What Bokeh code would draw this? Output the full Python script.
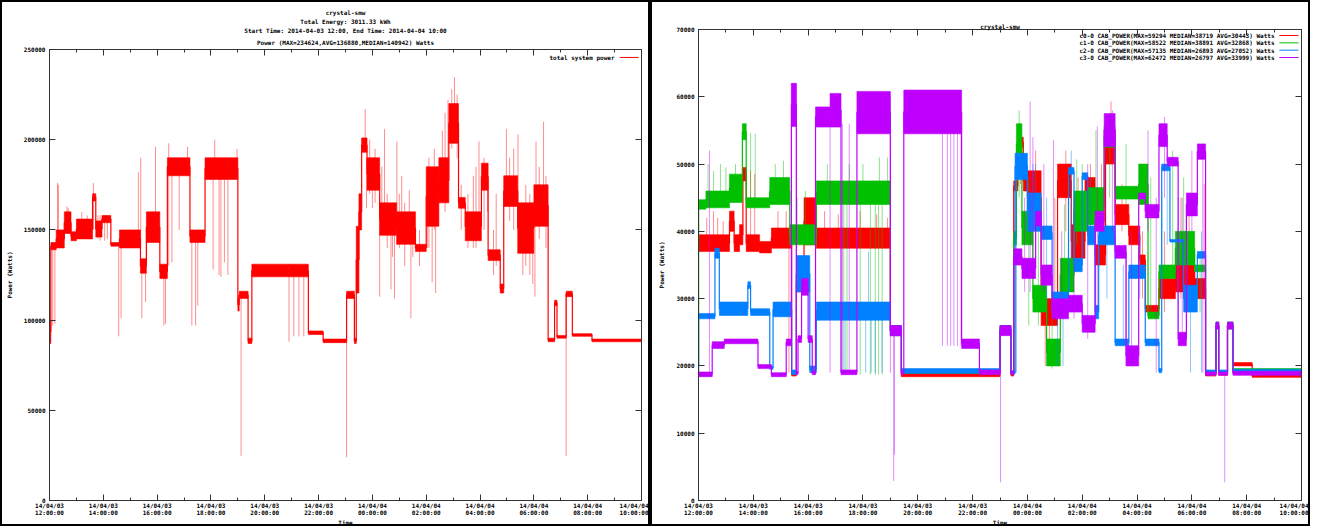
from bokeh.plotting import figure
from bokeh.layouts import row
from bokeh.models import (FixedTicker, NumeralTickFormatter, LinearAxis, Range1d,
                          Title, Label, Arrow)
from bokeh.embed import file_html
from bokeh.resources import INLINE

# ---------------- data (time in hours after 2014-04-03 12:00, power in kW) -------------
x_ticks = [0, 2, 4, 6, 8, 10, 12, 14, 16, 18, 20, 22]
x_minor = [1, 3, 5, 7, 9, 11, 13, 15, 17, 19, 21]
x_tick_labels = ["14/04/03\n12:00:00", "14/04/03\n14:00:00", "14/04/03\n16:00:00",
                 "14/04/03\n18:00:00", "14/04/03\n20:00:00", "14/04/03\n22:00:00",
                 "14/04/04\n00:00:00", "14/04/04\n02:00:00", "14/04/04\n04:00:00",
                 "14/04/04\n06:00:00", "14/04/04\n08:00:00", "14/04/04\n10:00:00"]
left_y_ticks = [0, 50000, 100000, 150000, 200000, 250000]
right_y_ticks = [0, 10000, 20000, 30000, 40000, 50000, 60000, 70000]

left_titles = ["crystal-smw", "Total Energy: 3011.33 kWh",
               "Start Time: 2014-04-03 12:00, End Time: 2014-04-04 10:00",
               "Power (MAX=234624,AVG=136880,MEDIAN=140942) Watts"]
right_titles = ["crystal-smw"]
total_label = "total system power"

# total system power: dense band per segment (start time, low, high)
tot_t = [0.00, 0.05, 0.25, 0.55, 0.80, 1.00, 1.60, 1.72, 1.95, 2.28, 2.60, 3.38, 3.60, 4.10, 4.38,
         5.22, 5.78, 7.00, 7.05, 7.38, 7.52, 8.88, 9.62, 10.17, 11.04, 11.33, 11.40, 11.50, 11.60,
         11.80, 12.27, 12.90, 13.60, 14.00, 14.47, 14.84, 15.20, 15.45, 16.05, 16.30, 16.75, 16.88,
         17.40, 18.00, 18.53, 18.77, 18.86, 19.20, 19.43, 20.16]
tot_lo = [87, 139, 140, 148, 144, 145, 166, 146, 154, 141, 140, 126, 143, 123, 180, 143, 178, 105,
          112, 87, 124, 124, 92, 87.5, 112, 87, 115, 150, 193, 172, 147, 142, 138, 152, 165, 198,
          162, 144, 172, 133, 115, 163, 137, 152, 88, 108, 90, 113, 91, 88]
tot_hi = [100, 143, 150, 160, 149, 156, 170, 155, 158, 143, 150, 134, 160, 131, 190, 150, 190, 112,
          116, 90, 131, 131, 94, 89.5, 116, 90, 152, 170, 201, 190, 165, 160, 142, 185, 190, 220,
          168, 160, 187, 139, 120, 180, 165, 175, 90, 111, 91.5, 116, 92.5, 89.5]
# isolated excursions (time, low, high)
tot_sp_t = [0.02, 0.12, 0.20, 0.30, 0.33, 0.65, 0.70, 1.20, 1.40, 1.63, 1.80, 1.88, 2.05, 2.15,
            2.57, 2.66, 3.30, 3.39, 3.43, 3.57, 3.94, 4.25, 4.31, 4.43, 4.55, 4.82, 5.13, 5.29,
            5.43, 5.51, 6.08, 6.14, 6.30, 6.37, 6.50, 6.63, 6.97, 7.12, 8.90, 9.08, 9.27, 9.45,
            11.04, 11.73, 11.78, 12.00, 12.27, 12.45, 12.69, 12.82, 12.91, 13.09, 13.37, 13.43,
            14.04, 14.22, 14.35, 14.81, 14.95, 15.05, 15.15, 15.96, 16.28, 16.98, 17.41, 17.59,
            17.96, 18.04, 18.08, 18.36, 19.20,
            11.90, 12.10, 12.35, 12.55, 12.75, 13.00, 13.20, 13.50, 13.75, 14.10, 14.30, 14.60,
            14.70, 15.30, 15.55, 15.75, 15.85, 16.15, 16.50, 16.60, 17.10, 17.25, 17.70, 17.85,
            18.20, 18.45]
tot_sp_lo = [88, 97, 98, 140, 145, 150, 148, 147, 146, 150, 145, 144, 144, 145, 91, 101, 145, 140,
             101, 110, 150, 97, 98, 130, 132, 150, 180, 97, 97, 108, 128, 185, 125, 124, 132, 125,
             185, 24.8, 88, 91, 91, 91, 24, 195, 162, 162, 113, 160, 117, 112, 150, 150, 150, 101,
             140, 121, 115, 180, 195, 200, 190, 150, 160, 170, 165, 125, 120, 113, 160, 165, 24.8,
             170, 165, 150, 140, 135, 140, 130, 135, 130, 140, 150, 165, 160, 150, 140, 140, 140,
             150, 125, 130, 155, 150, 130, 125, 145, 140]
tot_sp_hi = [140, 141, 142, 176, 175, 163, 162, 160, 158, 176, 158, 158, 158, 158, 142, 142, 182,
             190, 130, 130, 196, 128, 128, 198, 185, 185, 196, 145, 145, 145, 185, 200, 183, 183,
             183, 183, 195, 112, 125, 125, 125, 125, 112, 217, 190, 185, 170, 206, 150, 150, 199,
             180, 172, 145, 178, 160, 160, 222, 228, 234.6, 225, 199, 187, 206, 203, 160, 160, 160,
             199, 210, 115,
             200, 195, 185, 170, 165, 170, 165, 160, 150, 190, 195, 205, 215, 175, 170, 180, 185,
             190, 150, 170, 190, 195, 175, 170, 185, 180]

# cabinets (kW)
c0_t = [0.00, 1.13, 1.30, 1.50, 1.62, 1.74, 2.23, 2.66, 3.40, 3.57, 3.85, 4.30, 7.00, 7.40, 11.00,
        11.40, 11.50, 11.65, 11.85, 12.00, 12.50, 13.10, 13.60, 14.10, 14.47, 14.85, 15.20, 15.70,
        16.10, 16.30, 16.80, 17.40, 18.10, 18.50, 18.88, 18.98, 19.30, 19.50, 20.20]
c0_lo = [37, 40, 37, 38, 47.5, 37, 36.8, 37.5, 18.5, 31, 38, 37.5, 24.5, 18.4, 24.8, 18.5, 46, 52.5,
         46, 41, 26, 45, 36, 44, 35, 50, 41, 38, 35, 28, 30, 31, 30, 18.5, 25.5, 18.6, 25.5, 20, 18.3]
c0_hi = [39.5, 43, 39.5, 41, 49.5, 39.5, 38.5, 40.5, 19, 33.5, 45, 40.5, 26, 18.9, 26, 19, 47.5, 54,
         49, 49, 30, 50, 41, 48, 38, 55, 44, 40.8, 36.5, 29, 33, 37, 33, 19, 26.5, 19, 26.5, 20.5, 18.8]
c0_sp_t = [0.30, 0.55, 0.70, 0.90, 1.90, 2.05, 2.90, 3.20, 3.30, 4.60, 5.10, 5.90, 6.50, 6.90,
           11.75, 12.65, 15.05, 18.45, 11.55, 12.30, 12.80, 13.00, 13.40, 13.85, 14.30, 14.70,
           15.45, 16.20, 17.00, 17.60, 17.90]
c0_sp_lo = [38, 38, 38, 38, 38, 38, 39, 39, 19, 39, 39, 39, 39, 39, 47, 20, 50, 32, 19, 41, 22, 26,
            40, 36, 40, 35, 40, 30, 28, 30, 28]
c0_sp_hi = [42, 43, 42, 41.5, 49, 48.5, 43, 43, 40, 43, 42.5, 43, 42.5, 42, 53, 26, 59.3, 47, 47,
            52, 30, 45, 52, 48, 50, 50, 47, 40, 40, 45, 44]

c1_t = [0.00, 0.27, 1.13, 1.60, 1.74, 2.60, 3.33, 4.30, 7.00, 7.40, 11.00, 11.40, 11.50, 11.60,
        11.80, 12.20, 12.70, 13.20, 13.70, 14.20, 14.80, 15.20, 16.06, 16.40, 16.80, 17.40, 18.10,
        18.50, 18.88, 18.98, 19.30, 19.50]
c1_lo = [43.3, 43.5, 44.3, 53.6, 43.5, 44, 38, 44, 24.5, 18.9, 25, 18.7, 38, 50, 38, 28, 20, 31, 40,
         41, 52.5, 44.8, 44, 27, 33, 35, 34, 18.8, 25.5, 18.8, 25.5, 19]
c1_hi = [44.7, 46, 48.5, 56, 45, 48, 41, 47.5, 26, 19.4, 26, 19.2, 40, 56, 43, 32, 24, 36, 46, 46.5,
         55.6, 46.7, 50, 28, 35, 40, 35, 19.3, 26.5, 19.3, 26.5, 19.6]
c1_sp_t = [0.02, 0.35, 0.55, 0.80, 1.00, 1.35, 1.90, 2.07, 2.80, 3.10, 3.60, 3.90, 4.70, 5.30,
           5.42, 5.50, 5.90, 6.00, 6.27, 6.45, 6.57, 6.60, 6.70, 6.90, 12.05, 13.80, 14.00, 16.50,
           17.70, 11.70, 12.40, 12.90, 13.35, 14.50, 15.00, 15.60, 16.90, 17.30, 18.30]
c1_sp_lo = [20, 44, 44, 44, 44, 45, 44, 44, 45, 45, 38, 38, 45, 18.7, 18.7, 45, 18.7, 45, 18.7,
            18.7, 18.7, 45, 18.7, 45, 26, 38, 38, 28, 30, 45, 26, 19.6, 30, 41, 45, 44, 30, 33, 28]
c1_sp_hi = [44, 50, 49, 50, 49.5, 50, 54.6, 54.5, 50, 50.5, 45, 46, 50, 44, 44, 50, 44, 50, 44, 44,
            44, 51, 44, 51, 48, 50.7, 50, 48, 48, 58, 44, 33, 44, 55, 57, 53, 46, 52, 36]

c2_t = [0.00, 0.60, 0.76, 1.80, 1.90, 2.60, 2.72, 3.40, 3.57, 4.06, 4.30, 7.00, 7.40, 11.00, 11.40,
        11.55, 12.00, 12.50, 12.90, 13.50, 13.70, 14.00, 14.20, 14.47, 14.60, 15.20, 15.70, 16.30,
        16.80, 16.90, 17.20, 17.70, 18.20, 18.50, 18.88, 18.98, 19.30, 19.50]
c2_lo = [27, 36, 27.5, 31.5, 27.5, 19.5, 27.3, 18.7, 31, 19, 26.8, 24.5, 18.9, 25, 18.8, 47.7, 40,
         38.8, 28, 48.5, 34, 47.7, 38, 27, 38, 23, 33, 23, 19, 49, 38.4, 28, 36, 18.9, 25.5, 18.9,
         25.5, 18.9]
c2_hi = [27.8, 37.5, 29.5, 32.5, 28.5, 20, 29.5, 19.4, 36.4, 20, 29.5, 26, 19.6, 26, 19.3, 51.6,
         45.7, 40.8, 31, 49.5, 36, 48.7, 40.8, 29, 40.8, 24, 35, 24, 19.6, 50, 38.8, 32, 37, 19.4,
         26.5, 19.4, 26.5, 19.5]
c2_sp_t = [0.02, 5.20, 5.35, 6.10, 6.20, 6.30, 6.45, 6.70, 12.30, 13.10, 13.30, 14.30, 17.95,
           11.60, 12.20, 12.70, 13.60, 14.90, 15.50, 16.10, 17.10, 17.50, 18.35]
c2_sp_lo = [19, 19, 19, 19, 28, 19, 19, 19, 40, 20, 20, 38, 19, 19, 40, 30, 36, 30, 23, 30, 38, 25,
            19]
c2_sp_hi = [27.5, 28, 28, 28, 37, 28, 28, 28, 50, 31, 31, 48, 32, 52, 50, 45, 52, 41, 35, 40, 50,
            45, 40]

c3_t = [0.00, 0.50, 0.94, 2.17, 2.66, 3.20, 3.39, 3.57, 3.63, 3.76, 4.00, 4.15, 4.27, 4.80, 5.20,
        5.78, 7.00, 7.40, 7.49, 9.60, 10.25, 11.00, 11.40, 11.50, 11.80, 12.30, 12.50, 12.90,
        13.50, 14.00, 14.47, 14.80, 15.20, 15.60, 16.06, 16.30, 16.80, 17.10, 17.50, 17.80, 18.20,
        18.50, 18.88, 18.98, 19.30, 19.50]
c3_lo = [18.4, 22.6, 23.3, 19.6, 18.4, 23, 55.6, 18.7, 23.5, 30.5, 23.5, 18.7, 55.5, 55.5, 18.7,
         54.5, 24.5, 18.7, 54.5, 22.6, 18.7, 24.5, 18.7, 35, 33, 40.8, 32, 27, 28, 25, 40, 52.6, 36,
         20, 44.8, 42, 52.6, 49.7, 23, 42.3, 50.7, 18.6, 25.5, 18.6, 25.5, 18.6]
c3_hi = [19.1, 23.6, 24, 20.2, 19, 24, 62, 19.2, 24.5, 33, 24.5, 19.2, 58.5, 60.5, 19.4, 60.8, 26,
         19.2, 61, 24, 19.4, 26, 19.2, 37.4, 36, 43, 35, 30, 30.5, 27.5, 43, 57.5, 37.9, 23, 45.7,
         44, 56, 51, 25, 45.7, 53, 19.1, 26.5, 19.1, 26.5, 19.2]
c3_sp_t = [0.40, 3.39, 3.57, 4.80, 5.25, 5.50, 7.00, 7.12, 7.15, 8.90, 9.08, 9.20, 9.32, 9.45,
           9.58, 11.02, 12.10, 12.20, 12.95, 14.55, 15.60, 16.70, 19.20, 11.90, 12.60, 13.25,
           13.70, 14.20, 15.10, 15.80, 16.40, 17.00, 17.65, 18.00, 18.40]
c3_sp_lo = [19, 19, 19, 19, 19, 19, 19, 2.9, 6.8, 23, 23, 23, 23, 23, 23, 2.7, 31, 36, 31, 28, 20,
            19, 2.7, 31, 31, 27, 27, 24, 40, 20, 40, 45, 23, 40, 19]
c3_sp_hi = [52, 62, 62, 56, 56, 56, 60, 26, 25, 55, 55, 55, 55, 55, 55, 25, 59.3, 54, 53.6, 55.6,
            38, 45, 19, 45, 50, 40, 45, 50, 58, 40, 55, 57, 45, 52, 53]

cab_labels = ["c0-0 CAB_POWER(MAX=59294 MEDIAN=38719 AVG=30443) Watts",
              "c1-0 CAB_POWER(MAX=58522 MEDIAN=38891 AVG=32868) Watts",
              "c2-0 CAB_POWER(MAX=57135 MEDIAN=26893 AVG=27052) Watts",
              "c3-0 CAB_POWER(MAX=62472 MEDIAN=26797 AVG=33999) Watts"]
cab_colors = ["#ff0000", "#00c000", "#0080ff", "#c000ff"]

T_END = 22.0
FONT = "DejaVu Sans Mono"
FS = "6px"
AX = "#333333"
FIG_H = 526
CSS_BORDER = 2


def watts(vals):
    return [v * 1000 for v in vals]


def draw_series(p, t, lo, hi, st, slo, shi, color):
    right = t[1:] + [T_END]
    lo_w, hi_w = watts(lo), watts(hi)
    p.segment(x0=st, x1=st, y0=watts(slo), y1=watts(shi), line_color=color,
              line_alpha=0.45, line_width=1)
    mid = [(a + b) / 2 for a, b in zip(lo_w, hi_w)]
    p.step(x=t + [T_END], y=mid + [mid[-1]], mode="after", line_color=color, line_width=1.2)
    p.quad(left=t, right=right, bottom=lo_w, top=hi_w, fill_color=color,
           line_color=color, line_width=0.6)


def style_axes(p, y_ticks, top_gap):
    p.xaxis.ticker = FixedTicker(ticks=x_ticks, minor_ticks=x_minor)
    p.xaxis.major_label_overrides = {t: lab for t, lab in zip(x_ticks, x_tick_labels)}
    p.yaxis.ticker = FixedTicker(ticks=y_ticks)
    p.yaxis.formatter = NumeralTickFormatter(format="0")
    for ax in p.xaxis + p.yaxis:
        ax.major_tick_in = 6
        ax.major_tick_out = 0
        ax.minor_tick_in = 3
        ax.minor_tick_out = 0
        ax.axis_line_color = AX
        ax.major_tick_line_color = AX
        ax.minor_tick_line_color = AX
        ax.major_label_text_font = FONT
        ax.major_label_text_font_size = FS
        ax.major_label_text_font_style = "bold"
        ax.major_label_text_color = "black"
        ax.major_label_text_line_height = 1.0
        ax.axis_label_text_font = FONT
        ax.axis_label_text_font_size = FS
        ax.axis_label_text_font_style = "bold"
        ax.axis_label_text_color = "black"
        ax.major_label_standoff = 1
        ax.axis_label_standoff = 0
    p.yaxis.major_label_standoff = 4
    p.yaxis.axis_label_standoff = 8
    p.yaxis.minor_tick_line_color = None
    p.xaxis.axis_label = "Time"
    p.yaxis.axis_label = "Power (Watts)"
    # mirrored ticks on top / right (no labels)
    top = LinearAxis(ticker=FixedTicker(ticks=x_ticks, minor_ticks=x_minor),
                     major_label_overrides={t: "" for t in x_ticks}, major_label_standoff=top_gap,
                     major_label_text_font_size=FS,
                     major_tick_in=6, major_tick_out=0, minor_tick_in=3, minor_tick_out=0,
                     axis_line_color=AX, major_tick_line_color=AX, minor_tick_line_color=AX)
    rgt = LinearAxis(ticker=FixedTicker(ticks=y_ticks),
                     major_label_overrides={t: "" for t in y_ticks}, major_label_standoff=0,
                     major_label_text_font_size=FS, major_tick_in=6, major_tick_out=0,
                     minor_tick_line_color=None, axis_line_color=AX, major_tick_line_color=AX)
    p.add_layout(top, "above")
    p.add_layout(rgt, "right")


def add_titles(p, lines, standoff):
    for i, line in enumerate(reversed(lines)):
        p.add_layout(Title(text=line, align="center", text_font=FONT, text_font_size=FS,
                           text_font_style="bold", text_color="black",
                           standoff=standoff if i == 0 else 0, offset=0), "above")


def make_fig(w, ymax, bl, br, bt, bb):
    p = figure(width=w, height=FIG_H, output_backend="svg", toolbar_location=None,
               x_range=Range1d(0, T_END), y_range=Range1d(0, ymax),
               min_border_left=bl, min_border_right=br, min_border_top=bt, min_border_bottom=bb)
    p.grid.visible = False
    p.outline_line_color = AX
    p.background_fill_color = "white"
    p.border_fill_color = "white"
    p.styles = {"border": "%dpx solid black" % CSS_BORDER, "box-sizing": "border-box"}
    return p


def gnuplot_key(p, labels, colors, w, ymax, bl, br, bt, bb, first_px, step_px):
    """key in gnuplot style: right-aligned text, line sample to its right"""
    frame_w = w - bl - br - 2 * CSS_BORDER
    frame_h = FIG_H - bt - bb - 2 * CSS_BORDER
    hx = T_END / frame_w
    vy = ymax / frame_h
    for i, (lab, col) in enumerate(zip(labels, colors)):
        dy = first_px + i * step_px
        p.add_layout(Label(x=T_END, y=ymax, x_offset=-27, y_offset=-dy, text=lab,
                           text_font=FONT, text_font_size=FS, text_font_style="bold",
                           text_color="black", text_align="right", text_baseline="middle"))
        yy = ymax - dy * vy
        p.add_layout(Arrow(end=None, x_start=T_END - 22 * hx, x_end=T_END - 3 * hx,
                           y_start=yy, y_end=yy, line_color=col, line_width=1))


# ---------------- left: total system power ----------------
LB = (650, 250000, 36, 11, 47, 21)
p1 = make_fig(*LB)
style_axes(p1, left_y_ticks, 0)
add_titles(p1, left_titles, 7)
draw_series(p1, tot_t, tot_lo, tot_hi, tot_sp_t, tot_sp_lo, tot_sp_hi, "#ff0000")
gnuplot_key(p1, [total_label], ["#ff0000"], *LB, first_px=8, step_px=7.4)

# ---------------- right: per-cabinet power ----------------
RB = (660, 70000, 46, 11, 27, 21)
p2 = make_fig(*RB)
style_axes(p2, right_y_ticks, 5)
add_titles(p2, right_titles, 0)
series = [(c0_t, c0_lo, c0_hi, c0_sp_t, c0_sp_lo, c0_sp_hi),
          (c1_t, c1_lo, c1_hi, c1_sp_t, c1_sp_lo, c1_sp_hi),
          (c2_t, c2_lo, c2_hi, c2_sp_t, c2_sp_lo, c2_sp_hi),
          (c3_t, c3_lo, c3_hi, c3_sp_t, c3_sp_lo, c3_sp_hi)]
for (t, lo, hi, st, slo, shi), col in zip(series, cab_colors):
    draw_series(p2, t, lo, hi, st, slo, shi, col)
gnuplot_key(p2, cab_labels, cab_colors, *RB, first_px=6, step_px=7.4)

# two independent roots side by side (so the two plot frames are not aligned)
SIDE_BY_SIDE = """
{% block contents %}
{% from macros import embed %}
<div style="display:flex;flex-direction:row;align-items:flex-start;">
{% for doc in docs %}{% for root in doc.roots %}{{ embed(root) }}{% endfor %}{% endfor %}
</div>
{% endblock %}
"""
try:
    html = file_html([p1, p2], INLINE, template=SIDE_BY_SIDE)
except Exception:
    html = file_html(row(p1, p2), INLINE)
open("out.html", "w").write(html)
